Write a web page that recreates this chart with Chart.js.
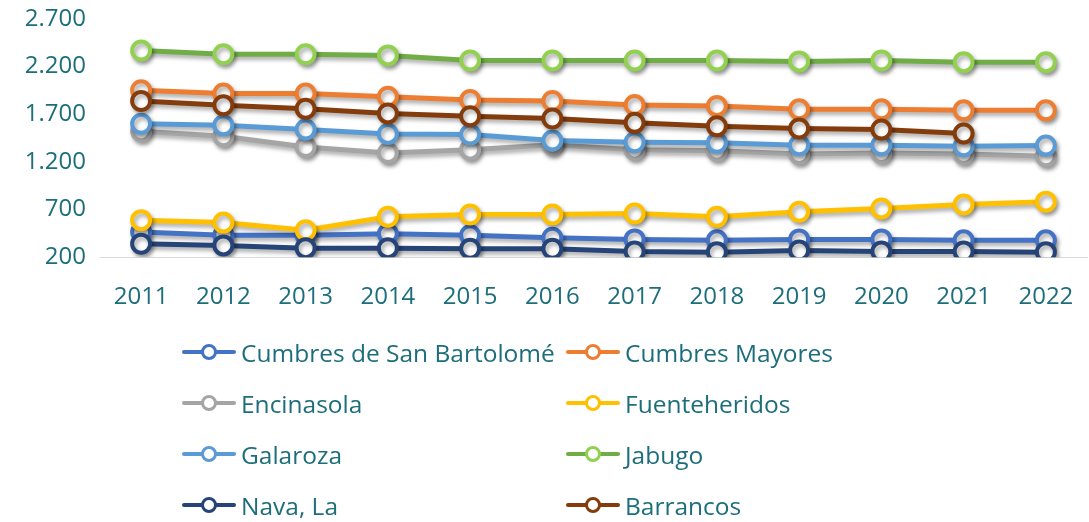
<!DOCTYPE html>
<html lang="es">
<head>
    <meta charset="UTF-8">
    <title>Población 2011-2022</title>
    <script src="https://cdn.jsdelivr.net/npm/chart.js"></script>
    <style>
        body { margin: 0; width: 1089px; height: 522px; overflow: hidden; background: #fff; font-family: "Open Sans", sans-serif; }
        #wrap { position: absolute; left: 0; top: 0; width: 1100px; height: 352px; }
        #legend { position: absolute; left: 0; top: 0; width: 1089px; height: 522px; pointer-events: none; }
        .item { position: absolute; height: 30px; display: flex; align-items: center; color: #1D6E7B; font-size: 24.5px; white-space: nowrap; }
        .mark { position: relative; width: 54px; height: 4px; margin-right: 5px; border-radius: 2px; }
        .mark span { position: absolute; left: 19px; top: -6px; width: 10px; height: 10px; border-radius: 50%; background: #fff; border: 3px solid; }
    </style>
</head>
<body>

<div id="wrap"><canvas id="chart" width="1100" height="352"></canvas></div>
<div id="legend"></div>

<script>
    const years = ['2011', '2012', '2013', '2014', '2015', '2016', '2017', '2018', '2019', '2020', '2021', '2022'];

    const cumbresSanBartolome = [465, 430, 430, 447, 430, 404, 387, 377, 387, 387, 377, 377];
    const cumbresMayores = [1953, 1917, 1917, 1885, 1850, 1840, 1797, 1787, 1752, 1752, 1741, 1741];
    const encinasola = [1522, 1470, 1357, 1293, 1329, 1380, 1329, 1318, 1283, 1293, 1283, 1260];
    const fuenteheridos = [589, 563, 483, 624, 648, 648, 659, 624, 677, 712, 754, 783];
    const galaroza = [1600, 1585, 1540, 1494, 1488, 1424, 1407, 1400, 1375, 1375, 1364, 1372];
    const jabugo = [2370, 2330, 2330, 2318, 2264, 2264, 2264, 2264, 2255, 2264, 2247, 2247];
    const navaLa = [341, 324, 295, 295, 288, 288, 260, 253, 271, 260, 260, 253];
    const barrancos = [1840, 1794, 1758, 1709, 1680, 1656, 1610, 1575, 1551, 1540, 1498, null];

    const names = ['Cumbres de San Bartolomé', 'Cumbres Mayores', 'Encinasola', 'Fuenteheridos',
                   'Galaroza', 'Jabugo', 'Nava, La', 'Barrancos'];
    const lineColors = ['#4472C4', '#ED7D31', '#A5A5A5', '#FFC000', '#5B9BD5', '#70AD47', '#264478', '#843C0C'];
    const markerColors = ['#4472C4', '#ED7D31', '#A5A5A5', '#FFC000', '#5B9BD5', '#92D050', '#264478', '#843C0C'];
    const series = [cumbresSanBartolome, cumbresMayores, encinasola, fuenteheridos, galaroza, jabugo, navaLa, barrancos];

    const textColor = '#1D6E7B';

    // later series drawn on top, like the spreadsheet
    const datasets = series.map((data, i) => ({
        label: names[i],
        data: data,
        borderColor: lineColors[i],
        borderWidth: 5,
        pointRadius: 9,
        pointHoverRadius: 9,
        pointBorderWidth: 4,
        pointBorderColor: markerColors[i],
        pointBackgroundColor: '#ffffff',
        fill: false,
        tension: 0,
        order: series.length - i
    }));

    // soft drop shadow under lines and markers
    const shadowPlugin = {
        id: 'shadow',
        beforeDatasetDraw(chart) {
            const c = chart.ctx;
            c.save();
            c.shadowColor = 'rgba(0, 0, 0, 0.35)';
            c.shadowBlur = 4;
            c.shadowOffsetX = 2;
            c.shadowOffsetY = 3;
        },
        afterDatasetDraw(chart) {
            chart.ctx.restore();
        }
    };

    const chart = new Chart(document.getElementById('chart'), {
        type: 'line',
        data: { labels: years, datasets: datasets },
        options: {
            responsive: false,
            animation: false,
            layout: { padding: { top: 19, right: 4, bottom: 14, left: 0 } },
            plugins: { legend: { display: false }, tooltip: { enabled: false } },
            scales: {
                x: {
                    offset: true,
                    grid: { display: false, drawTicks: false },
                    border: { display: true, color: '#D9D9D9', width: 1 },
                    ticks: { color: textColor, font: { family: 'Open Sans', size: 24 }, padding: 26 }
                },
                y: {
                    min: 200,
                    max: 2700,
                    grid: { display: false, drawTicks: false },
                    border: { display: false },
                    afterFit(scale) {
                        scale.width = 100;
                        scale.paddingTop = 0;
                        scale.paddingBottom = 0;
                    },
                    ticks: {
                        stepSize: 500,
                        color: textColor,
                        font: { family: 'Open Sans', size: 24 },
                        padding: 14,
                        callback: v => String(v).replace(/\B(?=(\d{3})+(?!\d))/g, '.')
                    }
                }
            }
        },
        plugins: [shadowPlugin]
    });

    // two-column legend under the chart
    const legend = document.getElementById('legend');
    const colX = [182, 566];
    const rowY = [337, 388, 439, 490];
    names.forEach((name, i) => {
        const item = document.createElement('div');
        item.className = 'item';
        item.style.left = colX[i % 2] + 'px';
        item.style.top = rowY[Math.floor(i / 2)] + 'px';
        item.innerHTML = '<div class="mark" style="background:' + lineColors[i] + '"><span style="border-color:' +
            markerColors[i] + '"></span></div>' + name;
        legend.appendChild(item);
    });
</script>

</body>
</html>
